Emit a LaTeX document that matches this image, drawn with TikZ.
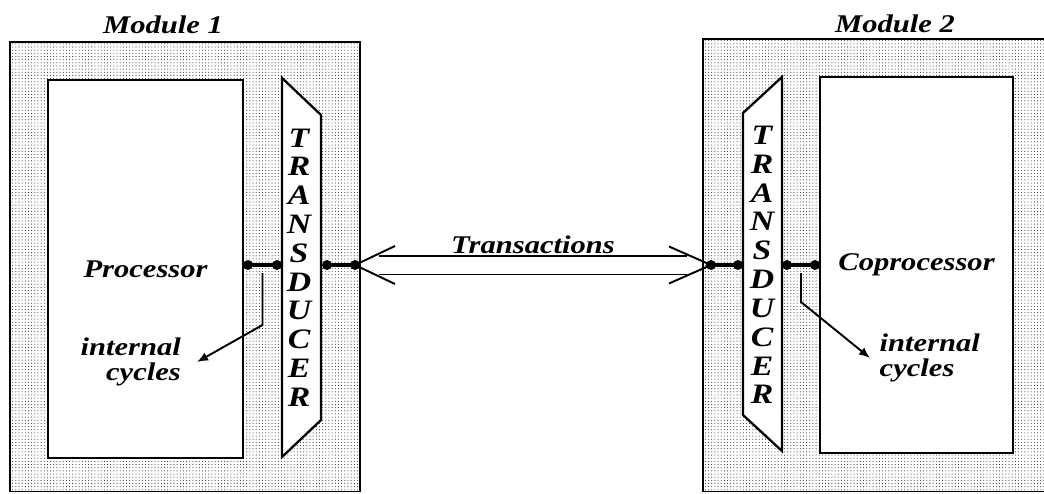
\documentclass[tikz,border=0pt]{standalone}
\usepackage{fontspec}
\setmainfont{Liberation Serif}[FakeStretch=1.2]
\usepackage{tikz}
\usetikzlibrary{calc,patterns,arrows.meta,positioning}

\pgfdeclarepatternformonly{fine dots}{\pgfqpoint{-.5pt}{-.5pt}}{\pgfqpoint{.5pt}{.5pt}}{\pgfqpoint{1.8pt}{1.8pt}}{\pgfpathcircle{\pgfqpoint{0pt}{0pt}}{.3pt}\pgfusepath{fill}}

\begin{document}
\begin{tikzpicture} [{modbox/.style={draw=black,line width=1.1pt,pattern=fine dots,pattern color=black!85}},{unit/.style={draw=black,line width=1.3pt,fill=white}},{pin/.style={circle,fill=black,inner sep=0pt,minimum size=0.2cm}},{link/.style={line width=2pt}},{lbl/.style={font=\fontsize{14.5}{14.5}\selectfont\bfseries\itshape}},{tdlbl/.style={font=\fontsize{16}{16.4}\selectfont\bfseries\itshape,align=center}},{dbl/.style={double,double distance=0.34cm,line width=1.1pt,shorten <=0.38cm,shorten >=0.38cm}},{barb/.style={line width=1.1pt}},{cyc/.style={line width=1.1pt,-{Latex[length=2.2mm,width=1.8mm]}}}]
		\useasboundingbox (0,0) rectangle (20.88,9.86);
		%%modules
		\draw [modbox] (0.20,0.03) rectangle (7.20,9.02);
		\draw [modbox] (14.06,0.03) rectangle (21.20,9.08);
		\node at (3.26,9.20) [lbl,anchor=base] (mod1) {Module 1};
		\node at (17.90,9.22) [lbl,anchor=base] (mod2) {Module 2};
		%%processor and coprocessor
		\node at (2.91,4.48) [unit,lbl,minimum width=3.9cm,minimum height=7.56cm] (proc) {Processor};
		\node at (18.33,4.56) [unit,lbl,minimum width=3.86cm,minimum height=7.52cm] (cop) {Coprocessor};
		%%transducers
		\draw [unit] (5.64,8.30) -- (6.42,7.56) -- (6.42,1.46) -- (5.64,0.72) -- cycle;
		\node at (5.98,4.51) [tdlbl] (td1) {T\\R\\A\\N\\S\\D\\U\\C\\E\\R};
		\draw [unit] (15.64,8.32) -- (14.86,7.60) -- (14.86,1.56) -- (15.64,0.84) -- cycle;
		\node at (15.24,4.56) [tdlbl] (td2) {T\\R\\A\\N\\S\\D\\U\\C\\E\\R};
		%%ports
		\node at (4.96,4.56) [pin] (d1) {};
		\node at (5.54,4.56) [pin] (d2) {};
		\node at (6.54,4.56) [pin] (d3) {};
		\node at (7.10,4.56) [pin] (d4) {};
		\node at (14.22,4.56) [pin] (d5) {};
		\node at (14.76,4.56) [pin] (d6) {};
		\node at (15.74,4.56) [pin] (d7) {};
		\node at (16.30,4.56) [pin] (d8) {};
		\draw [link] (d1.center) -- (d2.center);
		\draw [link] (d3.center) -- (d4.center);
		\draw [link] (d5.center) -- (d6.center);
		\draw [link] (d7.center) -- (d8.center);
		%%transactions
		\draw [dbl] (d4) -- (d5) node[midway,above=0.21cm,inner sep=0pt,lbl] (trans) {Transactions};
		\draw [barb] ($(d4)+(0.80,0.38)$) -- (d4.center) -- ($(d4)+(0.80,-0.38)$);
		\draw [barb] ($(d5)+(-0.84,0.37)$) -- (d5.center) -- ($(d5)+(-0.84,-0.37)$);
		%%internal cycles
		\coordinate (m1) at ($(d1)!0.5!(d2)$);
		\coordinate (m2) at ($(d7)!0.5!(d8)$);
		\coordinate (t1) at (3.94,2.62);
		\coordinate (t2) at (17.40,2.70);
		\node [lbl,align=right,left=0.2cm of t1] (ic1) {internal\\cycles};
		\node [lbl,align=left,right=0.07cm of t2] (ic2) {internal\\cycles};
		\draw [cyc] (m1) ++(0,-0.16) -- ++(0,-1.04) -- (t1);
		\draw [cyc] (m2) ++(0,-0.16) -- ++(0,-0.58) -- (t2);
	\end{tikzpicture}
\end{document}
